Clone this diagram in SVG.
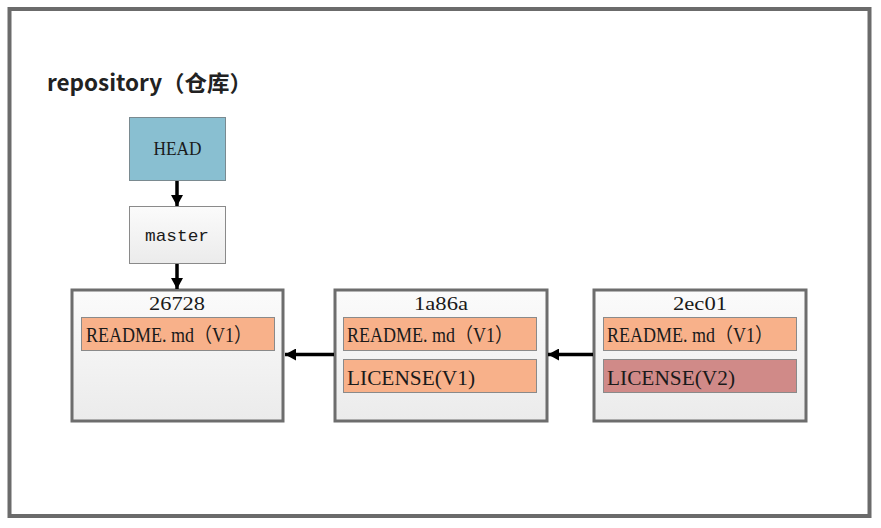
<svg xmlns="http://www.w3.org/2000/svg" width="881" height="528" viewBox="0 0 881 528">
<defs>
<linearGradient id="g" x1="0" y1="0" x2="0" y2="1"><stop offset="0" stop-color="#fbfbfb"/><stop offset="1" stop-color="#ebebeb"/></linearGradient>
<marker id="ah" markerWidth="11" markerHeight="12" refX="11" refY="6" orient="auto" markerUnits="userSpaceOnUse"><path d="M0,0 L11,6 L0,12 Z" fill="#000"/></marker>
<style>
.t{font-family:"Liberation Serif","Noto Sans CJK SC",serif;font-size:18px;fill:#1a1a1a}
.f{font-size:20px}
.c{text-anchor:middle}
.m{font-family:"Liberation Mono",monospace;font-size:17px}
.commit{fill:url(#g);stroke:#6d6d6d;stroke-width:3}
.file{fill:#f8b18a;stroke:#8a8a8a;stroke-width:1}
.file2{fill:#d08a88;stroke:#8a8a8a;stroke-width:1}
.ln{stroke:#000;stroke-width:3.5;fill:none;marker-end:url(#ah)}
</style>
</defs>
<rect x="0" y="0" width="881" height="528" fill="#fff"/>
<rect x="9.5" y="9" width="860" height="507" fill="#fff" stroke="#6b6b6b" stroke-width="4"/>
<text x="47" y="91" font-family="'Noto Sans CJK SC','Open Sans',sans-serif" font-weight="bold" font-size="22" fill="#222" textLength="205" lengthAdjust="spacingAndGlyphs">repository（仓库）</text>
<g id="head">
<rect x="129.5" y="117.5" width="96" height="63" fill="#89bfd1" stroke="#7a8a90"/>
<text class="t c" x="177.5" y="155" font-size="19" style="font-size:19px" textLength="48" lengthAdjust="spacingAndGlyphs">HEAD</text>
</g>
<g id="master">
<rect x="129.5" y="206.5" width="96" height="57" fill="url(#g)" stroke="#8a8a8a"/>
<text class="t c m" x="177" y="241" textLength="64" lengthAdjust="spacingAndGlyphs">master</text>
</g>
<g id="c26728">
<rect class="commit" x="72" y="290" width="211" height="131"/>
<text class="t c" x="177" y="310" textLength="56" lengthAdjust="spacingAndGlyphs">26728</text>
<rect class="file" x="81.5" y="317.5" width="193" height="33"/>
<text class="t f" x="86" y="342" textLength="166" lengthAdjust="spacingAndGlyphs">README. md（V1）</text>
</g>
<g id="c1a86a">
<rect class="commit" x="335" y="290" width="212" height="131"/>
<text class="t c" x="441" y="310" textLength="54" lengthAdjust="spacingAndGlyphs">1a86a</text>
<rect class="file" x="343.5" y="317.5" width="193" height="33"/>
<text class="t f" x="347" y="342" textLength="166" lengthAdjust="spacingAndGlyphs">README. md（V1）</text>
<rect class="file" x="343.5" y="359.5" width="193" height="33"/>
<text class="t f" x="347" y="385" textLength="128" lengthAdjust="spacingAndGlyphs">LICENSE(V1)</text>
</g>
<g id="c2ec01">
<rect class="commit" x="594" y="290" width="212" height="131"/>
<text class="t c" x="700" y="310" textLength="54" lengthAdjust="spacingAndGlyphs">2ec01</text>
<rect class="file" x="603.5" y="317.5" width="193" height="33"/>
<text class="t f" x="607" y="342" textLength="166" lengthAdjust="spacingAndGlyphs">README. md（V1）</text>
<rect class="file2" x="603.5" y="359.5" width="193" height="33"/>
<text class="t f" x="607" y="385" textLength="128" lengthAdjust="spacingAndGlyphs">LICENSE(V2)</text>
</g>
<g id="connectors">
<line class="ln" x1="177" y1="181" x2="177" y2="206"/>
<line class="ln" x1="177" y1="264" x2="177" y2="289"/>
<line class="ln" x1="334" y1="354.5" x2="285" y2="354.5"/>
<line class="ln" x1="593" y1="354.5" x2="548" y2="354.5"/>
</g>
</svg>
